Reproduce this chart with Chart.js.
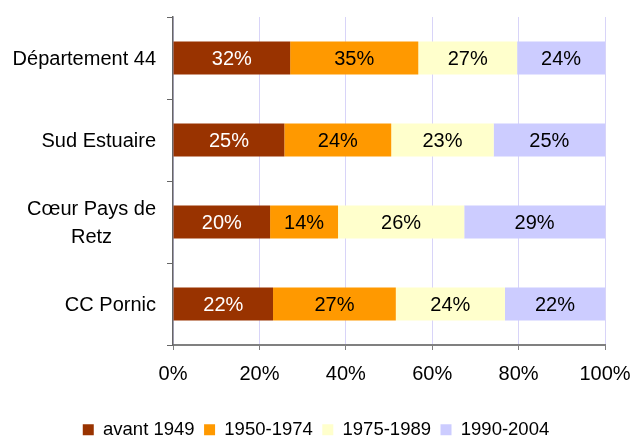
<!DOCTYPE html>
<html>
<head>
<meta charset="utf-8">
<script src="https://cdn.jsdelivr.net/npm/chart.js@4"></script>
<style>
html, body { margin: 0; padding: 0; background: #fff; }
#wrap { width: 632px; height: 437px; }
</style>
</head>
<body>
<div id="wrap"><canvas id="chart"></canvas></div>
<script>
// zones (the 3rd label is on two lines)
var categories = ['Département 44', 'Sud Estuaire', ['Cœur Pays de', 'Retz'], 'CC Pornic'];
var periods = ['avant 1949', '1950-1974', '1975-1989', '1990-2004'];

// values as printed on the bars (%)
var avant1949 = [32, 25, 20, 22];
var p1950_1974 = [35, 24, 14, 27];
var p1975_1989 = [27, 23, 26, 24];
var p1990_2004 = [24, 25, 29, 22];

var xTicks = [0, 20, 40, 60, 80, 100];

var series = [avant1949, p1950_1974, p1975_1989, p1990_2004];
var colors = ['#993300', '#FF9900', '#FFFFCC', '#CCCCFF'];
var labelColors = ['#fff', '#000', '#000', '#000'];
var FONT = '"Liberation Sans", Arial, sans-serif';

// bars are drawn as share of the row total (100% stacked)
var totals = categories.map(function (c, i) {
  return series.reduce(function (s, arr) { return s + arr[i]; }, 0);
});

var datasets = series.map(function (arr, k) {
  return {
    label: periods[k],
    data: arr.map(function (v, i) { return v / totals[i] * 100; }),
    raw: arr,
    backgroundColor: colors[k],
    borderWidth: 0,
    barPercentage: 0.4,
    categoryPercentage: 1
  };
});

var barLabels = {
  id: 'barLabels',
  afterDatasetsDraw: function (chart) {
    var ctx = chart.ctx;
    ctx.save();
    ctx.font = '20px ' + FONT;
    ctx.textAlign = 'center';
    ctx.textBaseline = 'middle';
    chart.data.datasets.forEach(function (ds, k) {
      chart.getDatasetMeta(k).data.forEach(function (bar, i) {
        var p = bar.getCenterPoint();
        ctx.fillStyle = labelColors[k];
        ctx.fillText(ds.raw[i] + '%', p.x, p.y + 1);
      });
    });
    ctx.restore();
  }
};

// category names: right aligned, wrapped lines centred on each other
var catLabels = {
  id: 'catLabels',
  afterDraw: function (chart) {
    var y = chart.scales.y, ctx = chart.ctx;
    var right = y.right - 17;
    ctx.save();
    ctx.font = '20px ' + FONT;
    ctx.fillStyle = '#000';
    ctx.textAlign = 'center';
    ctx.textBaseline = 'middle';
    categories.forEach(function (lab, i) {
      var lines = Array.isArray(lab) ? lab : [lab];
      var w = Math.max.apply(null, lines.map(function (l) { return ctx.measureText(l).width; }));
      var cy = y.getPixelForValue(i);
      lines.forEach(function (l, j) {
        ctx.fillText(l, right - w / 2, cy + 1 + (j - (lines.length - 1) / 2) * 28);
      });
    });
    ctx.restore();
  }
};

new Chart(document.getElementById('chart'), {
  type: 'bar',
  data: { labels: categories, datasets: datasets },
  plugins: [barLabels, catLabels],
  options: {
    indexAxis: 'y',
    responsive: true,
    maintainAspectRatio: false,
    animation: false,
    layout: { padding: { top: 17, right: 0, bottom: -12, left: 0 } },
    scales: {
      x: {
        stacked: true,
        min: 0,
        max: 100,
        afterBuildTicks: function (s) { s.ticks = xTicks.map(function (v) { return { value: v }; }); },
        afterFit: function (s) {
          s.height = 66;
          s.paddingRight = 27;
        },
        grid: { color: '#d8d4f8', lineWidth: 1, drawTicks: true, tickLength: 5, tickColor: '#808080' },
        border: { color: '#808080', width: 2 },
        ticks: {
          padding: 12,
          color: '#000',
          font: { family: FONT, size: 20 },
          maxRotation: 0,
          callback: function (v) { return v + '%'; }
        }
      },
      y: {
        stacked: true,
        afterFit: function (s) { s.width = 173; },
        grid: { drawOnChartArea: false, offset: true, drawTicks: true, tickLength: 6, tickColor: '#666' },
        border: { color: '#666', width: 1.5 },
        ticks: { display: false }
      }
    },
    plugins: {
      legend: {
        position: 'bottom',
        labels: {
          boxWidth: 11,
          boxHeight: 11,
          padding: 9.5,
          color: '#000',
          font: { family: FONT, size: 18.5 }
        }
      },
      tooltip: { enabled: false }
    }
  }
});
</script>
</body>
</html>
